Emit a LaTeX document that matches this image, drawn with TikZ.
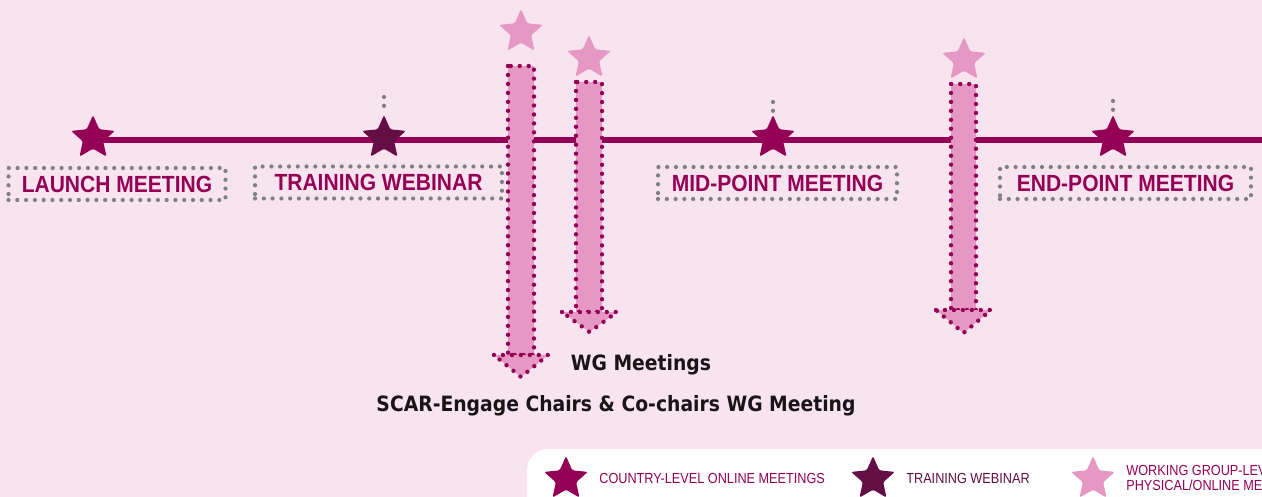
\documentclass[tikz,border=0pt]{standalone}
\usepackage{fontspec}
\setmainfont{DejaVu Sans}
\newfontfamily\narrowfont[FakeStretch=0.87]{Liberation Sans}
\newfontfamily\labelfont[FakeStretch=0.9]{Liberation Sans}
\newfontfamily\capfont[FakeStretch=0.89]{DejaVu Sans}
\usetikzlibrary{shapes.geometric}
\definecolor{bgpink}{RGB}{248,228,239}
\definecolor{mainpink}{RGB}{148,0,86}
\definecolor{darkplum}{RGB}{99,14,69}
\definecolor{lightpink}{RGB}{229,152,196}
\definecolor{dotgrey}{RGB}{128,128,128}
\definecolor{captext}{RGB}{25,20,22}
\tikzset{
  mstar/.style={star, star points=5, star point ratio=2.15, minimum size=0.92cm, inner sep=0pt, rounded corners=1.2pt, fill=#1},
  greydots/.style={draw=dotgrey, line width=2.4pt, line cap=round, dash pattern=on 0pt off 5pt},
  pinkdots/.style={draw=mainpink, line width=2.5pt, line cap=round, dash pattern=on 0pt off 5.1pt, fill=lightpink},
  stagebox/.style={greydots, minimum height=0.64cm, inner sep=0pt, text=mainpink, font=\labelfont\bfseries\fontsize{13.3}{16}\selectfont},
  legtext/.style={anchor=west, inner sep=0pt, align=left, font=\narrowfont\fontsize{8.3}{8}\selectfont},
  caption/.style={text=captext, font=\capfont\bfseries\fontsize{12}{14}\selectfont},
}
\begin{document}
\begin{tikzpicture}[x=0.02cm, y=-0.02cm]
\useasboundingbox (0,0) rectangle (1262,497);
\clip (0,0) rectangle (1262,497);
\fill[bgpink] (0,0) rectangle (1262,497);
% timeline
\coordinate (tlend) at (1262,140);
\coordinate (launchpt) at (93,140);
\draw[mainpink, line width=3.4pt] (launchpt) -- (tlend);
% grey stubs above the stars
\draw[greydots] (384,97) -- (384,108);
\draw[greydots] (773,102) -- (773,113);
\draw[greydots] (1113,101) -- (1113,112);
% stars on the timeline
\node[mstar=mainpink] (launch) at (93,138) {};
\node[mstar=darkplum] (training) at (384,138) {};
\node[mstar=mainpink] (midpoint) at (773,138) {};
\node[mstar=mainpink] (endpoint) at (1113,138) {};
% WG arrows
\draw[pinkdots] (508,66) rectangle (534,355);
\draw[pinkdots] (494,355) -- (548,355) -- (521,377) -- cycle;
\draw[pinkdots] (576,82) rectangle (602,312);
\draw[pinkdots] (562,312) -- (617,312) -- (589.5,332) -- cycle;
\draw[pinkdots] (951,84) rectangle (976,310);
\draw[pinkdots] (936,310) -- (991,310) -- (963.5,333) -- cycle;
\node[mstar=lightpink] (wgone) at (521,32) {};
\node[mstar=lightpink] (wgtwo) at (589,58) {};
\node[mstar=lightpink] (wgthree) at (964,60) {};
% stage labels
\node[stagebox, minimum width=4.34cm] (launchlbl) at (117,184) {LAUNCH MEETING};
\node[stagebox, minimum width=4.94cm] (traininglbl) at (378.5,182.5) {TRAINING WEBINAR};
\node[stagebox, minimum width=4.78cm] (midlbl) at (777.5,183) {MID-POINT MEETING};
\node[stagebox, minimum width=5.02cm] (endlbl) at (1125.5,183) {END-POINT MEETING};
% captions
\node[caption] (wgmeet) at (641,365) {WG Meetings};
\node[caption] (chairs) at (616,406) {SCAR-Engage Chairs \& Co-chairs WG Meeting};
% legend
\fill[white, rounded corners=12pt] (527,449) rectangle (1300,540);
\node[mstar=mainpink] (legcountry) at (566,479) {};
\node[legtext, text=mainpink] (legcountrytxt) at (599,478) {COUNTRY-LEVEL ONLINE MEETINGS};
\node[mstar=darkplum] (legtraining) at (873,479) {};
\node[legtext, text=darkplum] (legtrainingtxt) at (906,478) {TRAINING WEBINAR};
\node[mstar=lightpink] (legwg) at (1093,479) {};
\node[legtext, text=mainpink] (legwgtxt) at (1126,478) {WORKING GROUP-LEVEL\\PHYSICAL/ONLINE MEETINGS};
\end{tikzpicture}
\end{document}
